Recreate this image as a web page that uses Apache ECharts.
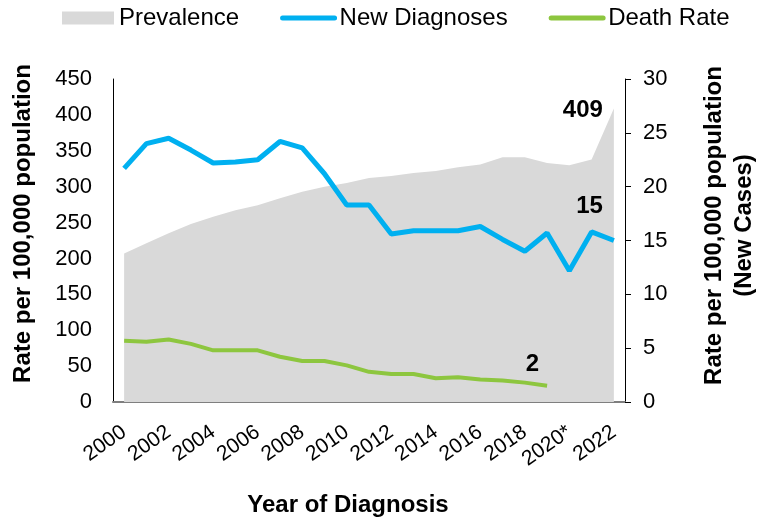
<!DOCTYPE html>
<html>
<head>
<meta charset="utf-8">
<script src="https://cdn.jsdelivr.net/npm/echarts@6/dist/echarts.min.js"></script>
<style>html,body{margin:0;padding:0;background:#fff}#c{width:762px;height:520px}</style>
</head>
<body>
<div id="c"></div>
<script>
const years = ['2000','2001','2002','2003','2004','2005','2006','2007','2008','2009','2010','2011','2012','2013','2014','2015','2016','2017','2018','2019','2020*','2021','2022'];
const prevalence = [207,221,235,248,258,267,274,284,293,300,305,312,315,319,322,327,331,341,341,333,330,338,409];
const newDiagnoses = [21.7,24.0,24.5,23.4,22.2,22.3,22.5,24.2,23.6,21.2,18.3,18.3,15.6,15.9,15.9,15.9,16.3,15.1,14.0,15.7,12.2,15.8,15.0];
const deathRate = [5.7,5.6,5.8,5.4,4.8,4.8,4.8,4.2,3.8,3.8,3.4,2.8,2.6,2.6,2.2,2.3,2.1,2.0,1.8,1.51];
const leftTicks = {min:0, max:450, interval:50};
const rightTicks = {min:0, max:30, interval:5};

const FONT = '"Liberation Sans", Arial, sans-serif';
const chart = echarts.init(document.getElementById('c'), null, {renderer:'canvas'});

function lastLabel(arr, opts) {
  return arr.map((v, i) => i === arr.length - 1
    ? {value: v, label: Object.assign({show: true, formatter: p => String(Math.round(p.value)), color: '#000', fontWeight: 'bold', fontSize: 24, fontFamily: FONT}, opts)}
    : v);
}

chart.setOption({
  animation: false,
  textStyle: {fontFamily: FONT},
  legend: {
    left: 57, top: 1,
    itemWidth: 52, itemHeight: 13, itemGap: 41,
    textStyle: {fontSize: 24, color: '#000', fontFamily: FONT},
    data: [
      {name: 'Prevalence', icon: 'rect'},
      {name: 'New Diagnoses', itemStyle: {opacity: 0}, lineStyle: {width: 5, cap: 'round'}},
      {name: 'Death Rate', itemStyle: {opacity: 0}, lineStyle: {width: 5, cap: 'round'}}
    ]
  },
  grid: {left: 113, right: 137, top: 79, bottom: 118, containLabel: false, outerBoundsMode: 'none'},
  xAxis: {
    type: 'category', data: years, boundaryGap: true,
    name: 'Year of Diagnosis', nameLocation: 'middle', nameGap: 91,
    nameTextStyle: {fontSize: 24, fontWeight: 'bold', color: '#000', fontFamily: FONT, padding: [0, 42, 0, 0]},
    axisLine: {show: true, lineStyle: {color: '#7f7f7f', width: 2}},
    axisTick: {show: false},
    axisLabel: {interval: 1, rotate: 35, fontSize: 21, color: '#000', margin: 28, fontFamily: FONT}
  },
  yAxis: [
    {
      type: 'value', min: leftTicks.min, max: leftTicks.max, interval: leftTicks.interval,
      name: 'Rate per 100,000 population', nameLocation: 'middle', nameGap: 78, nameRotate: 90,
      nameTextStyle: {fontSize: 24, fontWeight: 'bold', color: '#000', fontFamily: FONT, padding: [0,0,0,34]},
      axisLine: {show: true, lineStyle: {color: '#000', width: 1}},
      axisTick: {show: false},
      splitLine: {show: false},
      axisLabel: {fontSize: 22, color: '#000', margin: 21, fontFamily: FONT}
    },
    {
      type: 'value', position: 'right', min: rightTicks.min, max: rightTicks.max, interval: rightTicks.interval,
      name: 'Rate per 100,000 population\n(New Cases)', nameLocation: 'middle', nameGap: 74, nameRotate: 90,
      nameTextStyle: {fontSize: 24, fontWeight: 'bold', color: '#000', fontFamily: FONT, lineHeight: 30, padding: [0,0,0,30]},
      axisLine: {show: true, lineStyle: {color: '#000', width: 1}},
      axisTick: {show: true, inside: false, length: 6, lineStyle: {color: '#000'}},
      splitLine: {show: false},
      axisLabel: {fontSize: 22, color: '#000', margin: 18, fontFamily: FONT}
    }
  ],
  series: [
    {
      name: 'Prevalence', type: 'line', yAxisIndex: 0,
      data: lastLabel(prevalence, {position: 'left', distance: 11, offset: [0, 2]}),
      symbol: 'circle', symbolSize: 0, showSymbol: true, showAllSymbol: true, color: '#d9d9d9',
      lineStyle: {width: 0}, areaStyle: {color: '#d9d9d9', opacity: 1}, z: 1
    },
    {
      name: 'New Diagnoses', type: 'line', yAxisIndex: 1,
      data: lastLabel(newDiagnoses, {position: 'left', distance: 11, offset: [0, -34]}),
      symbol: 'circle', symbolSize: 0, showSymbol: true, showAllSymbol: true, color: '#00b0f0',
      lineStyle: {width: 5, color: '#00b0f0'}, z: 3
    },
    {
      name: 'Death Rate', type: 'line', yAxisIndex: 1,
      data: lastLabel(deathRate, {position: 'left', distance: 8, offset: [0, -21]}),
      symbol: 'circle', symbolSize: 0, showSymbol: true, showAllSymbol: true, color: '#8dc63f',
      lineStyle: {width: 4, color: '#8dc63f'}, z: 2
    }
  ]
});
</script>
</body>
</html>
